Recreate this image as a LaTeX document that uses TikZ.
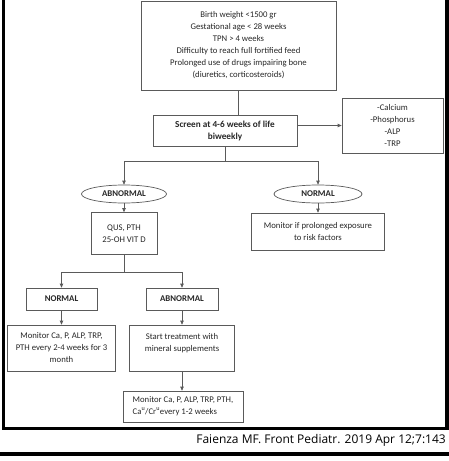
\documentclass[tikz,border=0pt]{standalone}
\usepackage{fontspec}
\setmainfont{Carlito}
\newfontfamily\citefont{Open Sans}
\usetikzlibrary{
  arrows.meta,
  shapes.geometric,
  positioning
}
\definecolor{mbLine}{HTML}{5A5A5A}
\definecolor{mbText}{HTML}{262626}
\tikzset{
  mbnode/.style={
    draw=mbLine, line width=0.7pt, text=mbText, align=center, inner sep=1pt,
    font=\fontsize{8.7}{12}\selectfont
  },
  mbbox/.style={mbnode, rectangle},
  mbtag/.style={mbnode, rectangle, font=\fontsize{8.8}{12}\selectfont\bfseries},
  mboval/.style={mbnode, ellipse, font=\fontsize{8.8}{12}\selectfont\bfseries},
  mbflow/.style={-{Triangle[length=4pt, width=3.5pt]}, line width=0.7pt, mbLine},
  mbline/.style={line width=0.7pt, mbLine},
  frame/.style={line width=3.5pt, black},
  cite/.style={font=\citefont\fontsize{12}{14}\selectfont, text=black, inner sep=0pt, anchor=east}
}
\begin{document}
\begin{tikzpicture}[x=1pt, y=-1pt]
  \useasboundingbox (0,0) rectangle (449,461);
  % risk factors and screening
  \node[mbbox, minimum width=195pt, minimum height=89pt] (risk) at (238.5,45.5) {Birth weight <1500 gr\\ Gestational age < 28 weeks\\ TPN > 4 weeks\\ Difficulty to reach full fortified feed\\ Prolonged use of drugs impairing bone\\ (diuretics, corticosteroids)};
  \node[mbbox, minimum width=144pt, minimum height=31pt, font=\fontsize{9.2}{12}\selectfont\bfseries] (screen) at (225,130.5) {Screen at 4-6 weeks of life\\ biweekly};
  \node[mbbox, minimum width=101pt, minimum height=55pt] (labs) at (392.5,125.5) {-Calcium\\ -Phosphorus\\ -ALP\\ -TRP};
  % first outcome
  \node[mboval, minimum width=85pt, minimum height=18pt] (abn1) at (124,194) {ABNORMAL};
  \node[mboval, minimum width=88pt, minimum height=18pt] (norm1) at (318,194) {NORMAL};
  \node[mbbox, minimum width=66pt, minimum height=42pt] (tests) at (124,233.5) {QUS, PTH\\ 25-OH VIT D};
  \node[mbbox, minimum width=133pt, minimum height=37pt] (watch) at (318,231.5) {Monitor if prolonged exposure\\ to risk factors};
  % second outcome
  \node[mbtag, minimum width=71pt, minimum height=22pt] (norm2) at (61.5,299) {NORMAL};
  \node[mbtag, minimum width=72pt, minimum height=22pt] (abn2) at (182,299) {ABNORMAL};
  \node[mbbox, minimum width=108pt, minimum height=46pt] (follow) at (61.5,348) {Monitor Ca, P, ALP, TRP,\\ PTH every 2-4 weeks for 3\\ month};
  \node[mbbox, minimum width=105pt, minimum height=46pt] (treat) at (182,348) {Start treatment with\\ mineral supplements\\ \mbox{}};
  \node[mbbox, minimum width=120pt, minimum height=31pt, align=left] (final) at (183,406.5) {Monitor Ca, P, ALP, TRP, PTH,\\ Ca\textsuperscript{u}/Cr\textsuperscript{u}every 1-2 weeks};
  % connectors
  \draw[mbline] (risk.south) -- (risk.south |- screen.north);
  \draw[mbflow] (screen.east |- labs.west) -- (labs.west);
  \draw[mbline] (screen.south) -- ++(0,15) coordinate (split1);
  \draw[mbflow] (split1) -| (abn1.north);
  \draw[mbflow] (split1) -| (norm1.north);
  \draw[mbflow] (abn1.south) -- (tests.north);
  \draw[mbflow] (norm1.south) -- (watch.north);
  \draw[mbline] (tests.south) -- ++(0,17) coordinate (split2);
  \draw[mbflow] (split2) -| (norm2.north);
  \draw[mbflow] (split2) -| (abn2.north);
  \draw[mbflow] (norm2.south) -- (follow.north);
  \draw[mbflow] (abn2.south) -- (treat.north);
  \draw[mbflow] (treat.south) -- (treat.south |- final.north);
  % frame and source
  \draw[frame] (3.5,0) -- (3.5,428.5) -- (447,428.5) -- (447,0);
  \node[cite] (source) at (446,440) {Faienza MF. Front Pediatr. 2019 Apr 12;7:143};
  \draw[frame] (0,454) -- (449,454);
\end{tikzpicture}
\end{document}
